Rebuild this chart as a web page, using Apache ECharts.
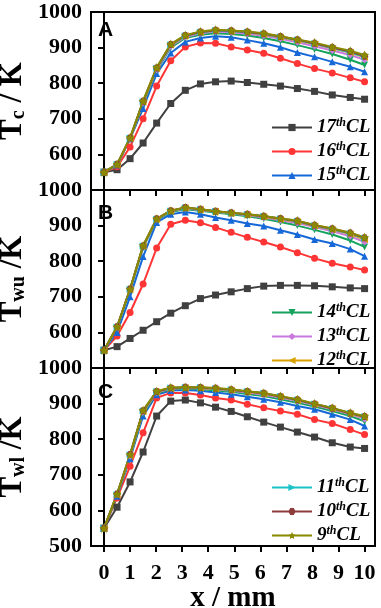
<!DOCTYPE html>
<html>
<head>
<meta charset="utf-8">
<script src="https://cdn.jsdelivr.net/npm/echarts@6/dist/echarts.min.js"></script>
<style>
html,body{margin:0;padding:0;background:#fff;}
#main{width:381px;height:608px;}
</style>
</head>
<body>
<div id="main"></div>
<script>
// x positions of the points (mm)
var xs = [0, 0.5, 1.0, 1.5, 2.02, 2.56, 3.12, 3.7, 4.28, 4.88, 5.5, 6.13, 6.77, 7.42, 8.08, 8.76, 9.45, 10];
var xTicks = [0, 1, 2, 3, 4, 5, 6, 7, 8, 9, 10];
var names = ['17th CL', '16th CL', '15th CL', '14th CL', '13th CL', '12th CL', '11th CL', '10th CL', '9th CL'];

// A: Tc
var tc17 = [550, 557, 588, 632, 688, 743, 780, 798, 804, 806, 802, 797, 792, 785, 777, 767, 760, 755];
var tc16 = [550, 565, 621, 700, 792, 863, 902, 913, 912, 902, 893, 884, 870, 855, 841, 829, 815, 804];
var tc15 = [550, 570, 644, 729, 827, 885, 916, 927, 932, 929, 921, 912, 901, 886, 874, 860, 846, 832];
var tc14 = [550, 570, 643, 742, 835, 900, 927, 936, 940, 938, 934, 927, 918, 907, 895, 882, 866, 851];
var tc13 = [550, 570, 644, 745, 838, 904, 930, 940, 945, 943, 939, 933, 925, 915, 904, 892, 879, 866];
var tc12 = [550, 571, 645, 747, 841, 907, 933, 943, 948, 946, 943, 937, 929, 920, 910, 898, 886, 873];
var tc11 = [550, 571, 646, 748, 842, 908, 933, 943, 948, 946, 943, 938, 930, 921, 911, 899, 887, 874];
var tc10 = [550, 572, 646, 749, 843, 909, 934, 944, 949, 947, 944, 939, 931, 922, 912, 900, 889, 876];
var tc9 = [550, 572, 647, 750, 844, 910, 935, 945, 950, 948, 945, 940, 932, 923, 914, 902, 891, 879];

// B: Twu
var twu17 = [550, 560, 583, 606, 630, 654, 675, 695, 705, 714, 723, 730, 732, 732, 731, 728, 725, 723];
var twu16 = [550, 590, 656, 736, 837, 904, 915, 908, 895, 881, 867, 854, 840, 824, 808, 794, 784, 775];
var twu15 = [550, 600, 700, 813, 909, 932, 938, 932, 923, 915, 906, 899, 887, 875, 861, 850, 834, 814];
var twu14 = [550, 612, 718, 838, 915, 938, 946, 942, 937, 932, 926, 919, 910, 900, 888, 875, 858, 840];
var twu13 = [550, 614, 720, 841, 917, 940, 948, 944, 939, 934, 929, 923, 915, 907, 896, 884, 870, 854];
var twu12 = [550, 615, 721, 842, 918, 941, 950, 945, 940, 935, 931, 925, 918, 911, 899, 889, 876, 861];
var twu11 = [550, 615, 721, 843, 918, 941, 950, 945, 940, 935, 931, 926, 919, 912, 900, 890, 878, 864];
var twu10 = [550, 616, 722, 843, 919, 942, 951, 946, 940, 936, 932, 926, 920, 913, 901, 891, 879, 866];
var twu9 = [550, 616, 722, 844, 919, 942, 951, 946, 940, 936, 932, 927, 920, 914, 902, 892, 880, 867];

// C: Twl
var twl17 = [550, 609, 680, 764, 865, 907, 910, 902, 890, 878, 863, 848, 834, 820, 806, 790, 778, 774];
var twl16 = [550, 635, 724, 818, 916, 930, 930, 924, 916, 910, 898, 888, 879, 870, 855, 844, 827, 813];
var twl15 = [550, 640, 745, 865, 925, 937, 938, 936, 931, 926, 919, 912, 904, 893, 884, 870, 855, 837];
var twl14 = [550, 642, 750, 872, 929, 940, 942, 941, 937, 933, 927, 921, 912, 902, 892, 879, 865, 850];
var twl13 = [550, 644, 753, 876, 931, 942, 944, 943, 940, 936, 931, 925, 917, 907, 896, 884, 870, 857];
var twl12 = [550, 645, 755, 878, 933, 943, 945, 944, 941, 938, 933, 928, 919, 909, 898, 886, 872, 861];
var twl11 = [550, 645, 756, 879, 934, 944, 945, 945, 942, 939, 934, 929, 920, 910, 899, 887, 873, 863];
var twl10 = [550, 646, 757, 880, 934, 944, 946, 945, 943, 939, 934, 929, 920, 911, 899, 887, 873, 864];
var twl9 = [550, 646, 757, 881, 935, 945, 946, 946, 944, 940, 935, 930, 921, 912, 900, 888, 874, 865];

var panels = [
    [tc17, tc16, tc15, tc14, tc13, tc12, tc11, tc10, tc9],
    [twu17, twu16, twu15, twu14, twu13, twu12, twu11, twu10, twu9],
    [twl17, twl16, twl15, twl14, twl13, twl12, twl11, twl10, twl9]
];

var colors = ['#404040', '#ff3535', '#1668d8', '#14a25c', '#c979dd', '#d9a000', '#1cc2c8', '#8e3b3b', '#8a8a00'];
var symbols = ['rect', 'circle', 'triangle', 'triangle', 'diamond', 'triangle', 'triangle',
    'path://M5,0L2.5,4.33L-2.5,4.33L-5,0L-2.5,-4.33L2.5,-4.33Z',
    'path://M0,-10L2.9,-4L9.5,-3.1L4.7,1.5L5.9,8.1L0,5L-5.9,8.1L-4.7,1.5L-9.5,-3.1L-2.9,-4Z'];
var rotates = [0, 0, 0, 180, 0, 90, -90, 0, 0];

var serif = 'Liberation Serif';
var gridTops = [12, 190, 368];
var panelH = 178;

var grids = [], xAxes = [], yAxes = [], series = [], legends = [];
var yNames = ['{t|T}{s|c}{t| / K}', '{t|T}{s|wu}{t| /K}', '{t|T}{s|wl}{t| /K}'];
var legendTops = [112, 297, 472];

for (var p = 0; p < 3; p++) {
    grids.push({left: 91, right: 6, top: gridTops[p], height: panelH,
        outerBoundsMode: 'none', containLabel: false,
        show: true, borderColor: '#000', borderWidth: 2, backgroundColor: 'transparent'});
    xAxes.push({
        type: 'value', gridIndex: p, min: -0.5, max: 10.4,
        axisLine: {lineStyle: {color: '#000', width: 2}},
        axisTick: {show: true, length: 6, lineStyle: {color: '#000', width: 2}, customValues: xTicks},
        axisLabel: {show: p == 2, customValues: xTicks, color: '#000', fontFamily: serif, fontWeight: 'bold', fontSize: 22, margin: 16},
        splitLine: {show: false},
        name: p == 2 ? 'x / mm' : '',
        nameLocation: 'middle', nameGap: 38, nameMoveOverlap: false,
        nameTextStyle: {color: '#000', fontFamily: serif, fontWeight: 'bold', fontSize: 29}
    });
    yAxes.push({
        type: 'value', gridIndex: p, min: 500, max: 1000, interval: 100,
        axisLine: {lineStyle: {color: '#000', width: 2}},
        axisTick: {show: true, length: 6, lineStyle: {color: '#000', width: 2}},
        axisLabel: {showMinLabel: p == 2, color: '#000', fontFamily: serif, fontWeight: 'bold', fontSize: 22, margin: 9,
            formatter: function (v) { return '' + v; }},
        splitLine: {show: false},
        name: yNames[p], nameLocation: 'middle', nameRotate: 90, nameGap: 62, nameMoveOverlap: false,
        nameTextStyle: {rich: {
            t: {fontFamily: serif, fontWeight: 'bold', fontSize: 31, color: '#000'},
            s: {fontFamily: serif, fontWeight: 'bold', fontSize: 20, color: '#000', padding: [12, 0, 0, 0]}
        }}
    });
    for (var k = 0; k < 9; k++) {
        var vals = panels[p][k];
        var d = [];
        for (var i = 0; i < xs.length; i++) d.push([xs[i], vals[i]]);
        series.push({
            name: names[k], type: 'line', xAxisIndex: p, yAxisIndex: p,
            data: d, symbol: symbols[k], symbolRotate: rotates[k],
            symbolSize: k == 8 ? 9 : 7, showSymbol: true,
            color: colors[k],
            lineStyle: {color: colors[k], width: 2},
            itemStyle: {color: colors[k]},
            animation: false
        });
    }
    legends.push({
        data: names.slice(p * 3, p * 3 + 3),
        orient: 'vertical', left: 266, top: legendTops[p],
        itemWidth: 40, itemHeight: 9, itemGap: 4,
        selectedMode: false,
        formatter: function (name) {
            var parts = name.split('th');
            return '{n|' + parts[0] + '}{s|th}{n|' + parts[1].trim() + '}';
        },
        textStyle: {rich: {
            n: {fontFamily: serif, fontStyle: 'italic', fontWeight: 'bold', fontSize: 19, color: '#000', lineHeight: 20},
            s: {fontFamily: serif, fontStyle: 'italic', fontWeight: 'bold', fontSize: 12, color: '#000', padding: [0, 0, 9, 0]}
        }}
    });
}

var dom = document.getElementById('main');
var myChart = echarts.init(dom);

var option = {
    animation: false,
    grid: grids,
    xAxis: xAxes,
    yAxis: yAxes,
    legend: legends,
    graphic: [
        {type: 'text', left: 98, top: 20, style: {text: 'A', font: 'bold 21px "Liberation Sans"', fill: '#000'}},
        {type: 'text', left: 98, top: 203, style: {text: 'B', font: 'bold 21px "Liberation Sans"', fill: '#000'}},
        {type: 'text', left: 98, top: 382, style: {text: 'C', font: 'bold 21px "Liberation Sans"', fill: '#000'}}
    ],
    series: series
};

myChart.setOption(option);
</script>
</body>
</html>
